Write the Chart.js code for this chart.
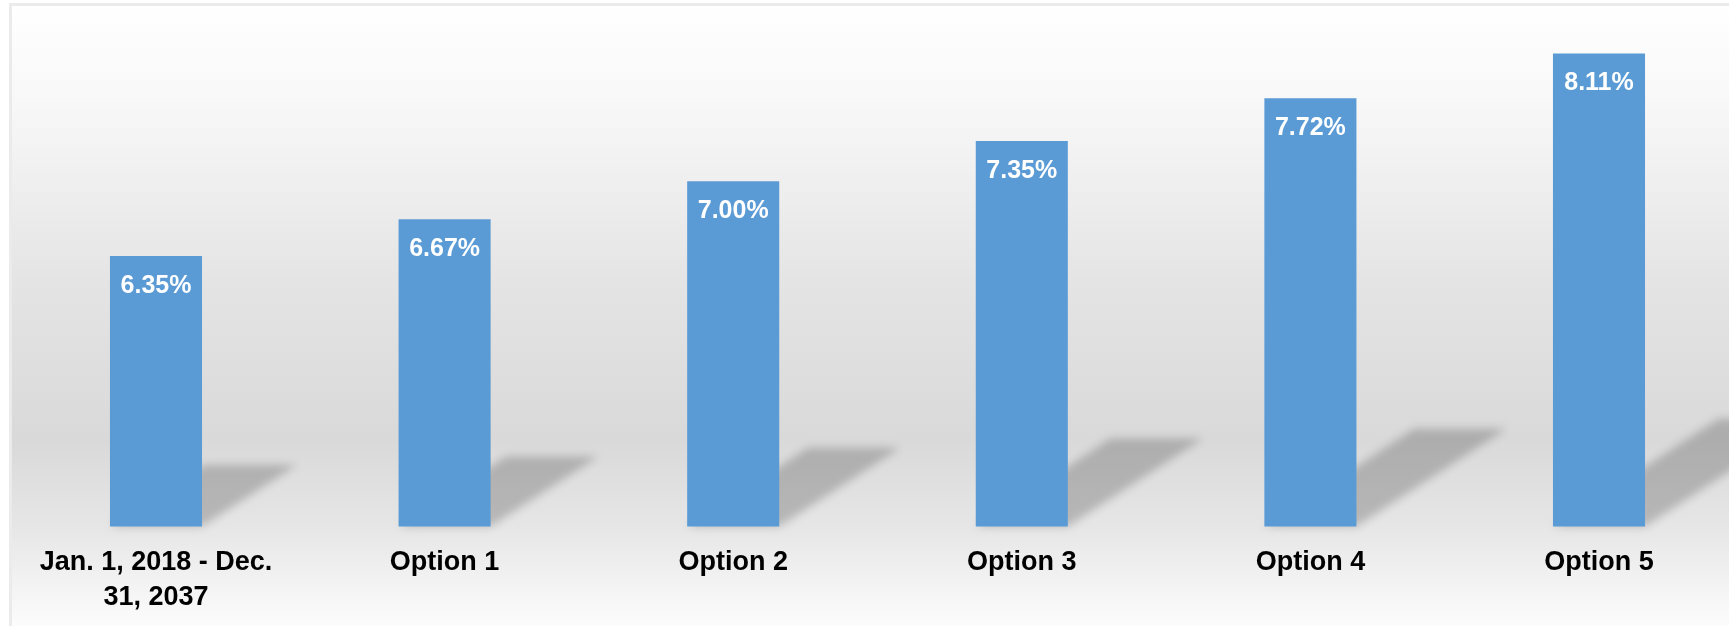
<!DOCTYPE html>
<html>
<head>
<meta charset="utf-8">
<script src="https://cdn.jsdelivr.net/npm/chart.js@4"></script>
<style>
  html, body { margin: 0; padding: 0; background: #ffffff; overflow: hidden; width: 1729px; height: 626px; }
  canvas { display: block; }
</style>
</head>
<body>
<canvas id="c" width="1760" height="626"></canvas>
<script>
const categories = [["Jan. 1, 2018 - Dec.", "31, 2037"], "Option 1", "Option 2", "Option 3", "Option 4", "Option 5"];
const rates = [6.35, 6.67, 7.00, 7.35, 7.72, 8.11];
const rateLabels = ["6.35%", "6.67%", "7.00%", "7.35%", "7.72%", "8.11%"];
const yMin = 4;
const yMax = 8.5;

const FONT = '"Liberation Sans", Arial, Helvetica, sans-serif';

const backgroundPlugin = {
  id: 'bg',
  beforeDraw(chart) {
    const ctx = chart.ctx;
    const W = chart.width, H = chart.height;
    ctx.save();
    ctx.fillStyle = '#ffffff';
    ctx.fillRect(0, 0, W, H);
    const g = ctx.createLinearGradient(0, 5, 0, H);
    g.addColorStop(0.00, '#ffffff');
    g.addColorStop(0.15, '#f8f8f8');
    g.addColorStop(0.45, '#e4e4e4');
    g.addColorStop(0.70, '#d9d9d9');
    g.addColorStop(0.84, '#e6e6e6');
    g.addColorStop(1.00, '#fcfcfc');
    ctx.fillStyle = g;
    ctx.fillRect(12, 6, W - 12, H - 6);
    ctx.strokeStyle = '#ebebeb';
    ctx.lineWidth = 3;
    ctx.strokeRect(10.5, 4.5, W + 20, H + 20);
    ctx.restore();
  }
};

function drawShadows(chart) {
  const ctx = chart.ctx;
  const meta = chart.getDatasetMeta(0);
  const yScale = chart.scales.y;
  const xScale = chart.scales.x;
  const baseY = yScale.getPixelForValue(yMin);
  const n = chart.data.labels.length;
  const slot = (xScale.right - xScale.left) / n;
  ctx.save();
  ctx.filter = 'blur(4px)';
  ctx.fillStyle = 'rgba(0,0,0,0.2)';
  chart.data.datasets[0].data.forEach((v, i) => {
    const cx = xScale.getPixelForValue(i);
    const w = slot * chart.data.datasets[0].barPercentage;
    const L = cx - w / 2;
    const R = cx + w / 2;
    const top = yScale.getPixelForValue(v);
    const h = baseY - top;
    const dx = 0.35 * h;
    const dy = 0.228 * h;
    ctx.beginPath();
    ctx.moveTo(L, baseY);
    ctx.lineTo(R, baseY);
    ctx.lineTo(R + dx, baseY - dy);
    ctx.lineTo(L + dx, baseY - dy);
    ctx.closePath();
    ctx.fill();
  });
  ctx.restore();
}

const shadowPlugin = {
  id: 'shadows',
  beforeDatasetsDraw(chart) { drawShadows(chart); }
};

const valueLabelPlugin = {
  id: 'valueLabels',
  afterDatasetsDraw(chart) {
    const ctx = chart.ctx;
    const meta = chart.getDatasetMeta(0);
    ctx.save();
    ctx.fillStyle = '#ffffff';
    ctx.font = 'bold 25px ' + FONT;
    ctx.textAlign = 'center';
    ctx.textBaseline = 'alphabetic';
    meta.data.forEach((bar, i) => {
      ctx.fillText(rateLabels[i], bar.x, bar.y + 37);
    });
    ctx.restore();
  }
};

new Chart(document.getElementById('c'), {
  type: 'bar',
  data: {
    labels: categories,
    datasets: [{
      data: rates,
      backgroundColor: '#5b9bd5',
      borderWidth: 0,
      categoryPercentage: 1.0,
      barPercentage: 0.319
    }]
  },
  options: {
    responsive: false,
    animation: false,
    devicePixelRatio: 1,
    layout: { padding: { left: 11.7, right: 16.7, top: 8.5, bottom: 0 } },
    plugins: { legend: { display: false }, tooltip: { enabled: false } },
    scales: {
      y: { display: false, min: yMin, max: yMax },
      x: {
        grid: { display: false, drawTicks: false, tickLength: 0 },
        border: { display: false },
        ticks: {
          color: '#000000',
          padding: 18,
          maxRotation: 0,
          autoSkip: false,
          font: { family: FONT, size: 27, weight: 'bold', lineHeight: 1.3 }
        },
        afterFit(scale) { scale.height = 99.5; }
      }
    }
  },
  plugins: [backgroundPlugin, shadowPlugin, valueLabelPlugin]
});
</script>
</body>
</html>
